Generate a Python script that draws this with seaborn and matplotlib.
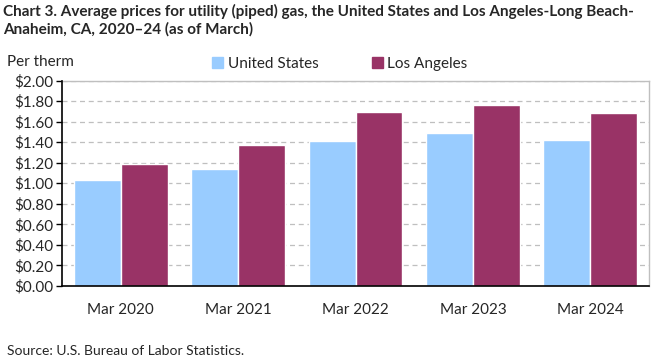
import matplotlib
matplotlib.use("Agg")
import matplotlib.pyplot as plt
import seaborn as sns
import pandas as pd

# values (dollars per therm)
periods = ["Mar 2020", "Mar 2021", "Mar 2022", "Mar 2023", "Mar 2024"]
us_prices = [1.03, 1.14, 1.41, 1.49, 1.42]
la_prices = [1.19, 1.37, 1.69, 1.76, 1.68]
series_names = ["United States", "Los Angeles"]
colors = ["#99CCFF", "#993366"]
y_ticks = [0.0, 0.2, 0.4, 0.6, 0.8, 1.0, 1.2, 1.4, 1.6, 1.8, 2.0]

df = pd.DataFrame({
    "period": periods * 2,
    "price": us_prices + la_prices,
    "series": [series_names[0]] * len(periods) + [series_names[1]] * len(periods),
})

sns.set_theme(style="white")
plt.rcParams['font.family'] = ['Lato', 'DejaVu Sans']

fig = plt.figure(figsize=(6.61, 3.61), dpi=100)
ax = fig.add_axes([62 / 661, 1 - 286 / 361, 587 / 661, 205.5 / 361])

sns.barplot(data=df, x="period", y="price", hue="series", order=periods,
            hue_order=series_names, palette=colors, width=0.8, gap=0,
            saturation=1, ax=ax, legend=False, zorder=3)

ax.set_ylim(0, 2.0)
ax.set_xlim(-0.5, len(periods) - 0.5)
ax.set_yticks(y_ticks)
ax.set_yticklabels([f"${v:.2f}" for v in y_ticks], fontsize=11)
ax.tick_params(axis="x", labelsize=11, length=0, pad=12)
ax.tick_params(axis="y", length=4, width=1, color="black", direction="out", left=True, pad=2)
ax.set_xlabel("")
ax.set_ylabel("")
ax.yaxis.grid(True, linestyle=(0, (4, 3)), color="#BFBFBF", linewidth=0.9, zorder=0)

for side in ["top", "right"]:
    ax.spines[side].set_color("#BFBFBF")
    ax.spines[side].set_linewidth(1)
for side in ["left", "bottom"]:
    ax.spines[side].set_color("black")
    ax.spines[side].set_linewidth(1.2)
    ax.spines[side].set_zorder(5)

# legend
handles = [plt.Rectangle((0, 0), 1, 1, color=c) for c in colors]
fig.legend(handles, series_names, loc="center", bbox_to_anchor=(340 / 661, 1 - 64 / 361),
           ncol=2, frameon=False, fontsize=11, handlelength=0.7, handleheight=0.7,
           handletextpad=0.3, columnspacing=3.5)

fig.text(3 / 661, 1 - 4 / 361,
         "Chart 3. Average prices for utility (piped) gas, the United States and Los Angeles-Long Beach-\n"
         "Anaheim, CA, 2020\u201324 (as of March)",
         ha="left", va="top", fontsize=11, fontweight="bold", linespacing=1.25)
fig.text(7 / 661, 1 - 62 / 361, "Per therm", ha="left", va="center", fontsize=11)
fig.text(7 / 661, 1 - 351 / 361, "Source: U.S. Bureau of Labor Statistics.", ha="left",
         va="center", fontsize=10)

fig.savefig("out.png", dpi=100)
